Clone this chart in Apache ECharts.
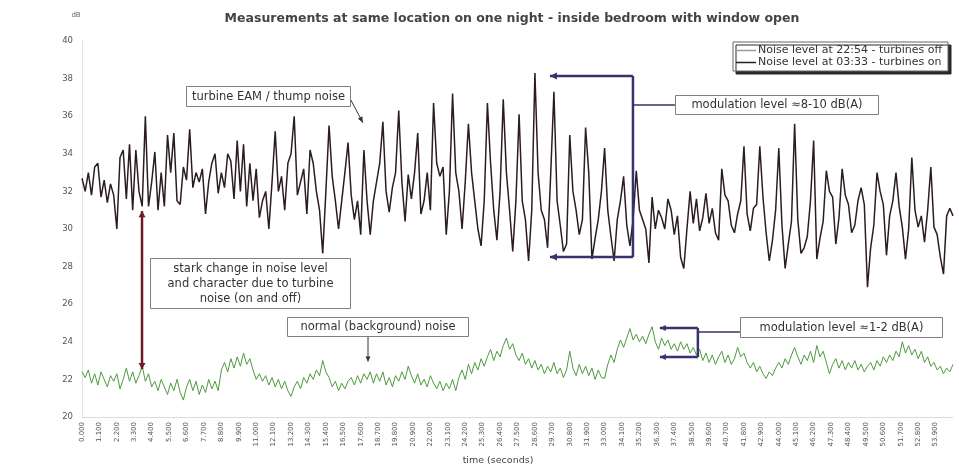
<!DOCTYPE html>
<html>
<head>
<meta charset="utf-8">
<script src="https://cdn.jsdelivr.net/npm/echarts@6/dist/echarts.min.js"></script>
<style>
  html, body { margin: 0; padding: 0; background: #fff; }
  #chart { width: 959px; height: 468px; }
</style>
</head>
<body>
<div id="chart"></div>
<script>
// Readings are taken every 0.2 s
const SAMPLE_STEP = 0.2;

// Noise level (dB) at 03:33 with the turbines running
const turbinesOn = [
  32.7, 32.0, 33.0, 31.8, 33.3, 33.5, 31.7, 32.6, 31.4, 32.4,
  31.8, 30.0, 33.8, 34.2, 31.6, 34.5, 31.0, 34.2, 32.0, 31.2,
  36.0, 31.2, 32.5, 34.1, 31.0, 33.0, 31.2, 35.0, 33.0, 35.1,
  31.5, 31.3, 33.3, 32.6, 35.3, 32.2, 33.0, 32.5, 33.2, 30.8,
  32.5, 33.5, 34.0, 31.9, 33.0, 32.2, 34.0, 33.6, 31.6, 34.7,
  32.0, 34.5, 31.2, 33.5, 31.5, 33.2, 30.6, 31.5, 32.0, 30.0,
  32.5, 35.2, 32.0, 32.8, 31.0, 33.5, 34.0, 36.0, 31.8, 32.5,
  33.2, 30.8, 34.2, 33.5, 32.0, 31.0, 28.7, 32.0, 35.5, 32.8,
  31.5, 30.0, 31.5, 33.0, 34.6, 31.8, 30.5, 31.5, 29.7, 34.2,
  31.5, 29.7, 31.5, 32.5, 33.5, 35.7, 32.0, 30.9, 32.2, 33.0,
  36.3, 32.5, 30.4, 32.9, 31.6, 33.0, 35.1, 30.8, 31.5, 33.0,
  31.0, 36.7, 33.5, 32.8, 33.3, 29.7, 32.0, 37.2, 33.0, 32.0,
  30.0, 32.5, 35.6, 33.0, 31.5, 30.0, 29.1, 31.5, 36.7, 33.5,
  31.0, 29.4, 32.0, 36.9, 33.0, 31.0, 28.8, 31.5, 36.1, 31.5,
  30.5, 28.3, 31.0, 38.3, 33.0, 31.0, 30.5, 29.0, 33.0, 37.3,
  31.5, 30.2, 28.8, 29.2, 35.0, 32.0, 31.0, 29.7, 30.5, 35.4,
  33.0, 28.4, 29.5, 30.5, 32.0, 34.3, 31.0, 29.6, 28.3, 30.5,
  31.5, 32.8, 30.2, 29.1, 30.5, 33.1, 31.0, 30.5, 30.0, 28.2,
  31.7, 30.0, 31.0, 30.6, 30.0, 31.6, 31.0, 29.7, 30.7, 28.5,
  27.9, 30.0, 32.0, 30.3, 31.6, 29.9, 30.6, 31.9, 30.3, 31.1,
  29.8, 29.4, 33.2, 31.8, 31.5, 30.2, 29.8, 30.8, 31.5, 34.4,
  30.8, 29.9, 31.1, 31.3, 34.4, 31.7, 29.8, 28.3, 29.4, 31.0,
  34.3, 30.2, 27.9, 29.2, 30.4, 35.6, 30.5, 28.7, 29.0, 29.6,
  31.5, 34.7, 28.4, 29.5, 30.4, 33.1, 32.0, 31.7, 29.2, 30.6,
  33.2, 31.8, 31.3, 29.8, 30.2, 31.5, 32.2, 31.3, 26.9, 29.0,
  30.2, 33.0, 32.0, 31.3, 28.6, 30.7, 31.5, 33.0, 31.2, 30.1,
  28.4, 30.0, 33.8, 31.0, 30.1, 30.7, 29.3, 31.0, 33.3, 30.1,
  29.7, 28.5, 27.6, 30.7, 31.1, 30.7
];

// Noise level (dB) at 22:54 with the turbines stopped
const turbinesOff = [
  22.4, 22.1, 22.5, 21.8, 22.3, 21.7, 22.4, 22.0, 21.6, 22.2,
  21.9, 22.3, 21.5, 22.0, 22.6, 21.9, 22.4, 21.8, 22.2, 22.7,
  21.9, 22.3, 21.6, 21.9, 21.4, 22.0, 21.6, 21.2, 21.8, 21.4,
  22.0, 21.3, 20.9, 21.6, 22.0, 21.4, 21.9, 21.2, 21.7, 21.3,
  22.0, 21.5, 21.9, 21.4, 22.5, 22.9, 22.4, 23.1, 22.6, 23.2,
  22.7, 23.4, 22.8, 23.1, 22.5, 22.0, 22.3, 21.9, 22.2, 21.7,
  22.1, 21.6, 22.0, 21.5, 21.9, 21.4, 21.1, 21.6, 21.9, 21.5,
  22.1, 21.8, 22.3, 22.0, 22.5, 22.2, 23.0, 22.4, 22.1, 21.6,
  21.9, 21.4, 21.8, 21.5, 21.9, 22.1, 21.7, 22.2, 21.8, 22.3,
  22.0, 22.4, 21.8, 22.3, 21.9, 22.4, 21.7, 22.1, 21.6, 22.2,
  21.9, 22.4, 22.0, 22.7, 22.2, 21.8, 22.3, 21.7, 22.0, 21.6,
  22.2, 21.8, 21.5, 21.9, 21.4, 21.8, 21.5, 22.0, 21.4, 22.1,
  22.5, 22.0, 22.8, 22.3, 22.9, 22.5, 23.1, 22.7, 23.2, 23.6,
  23.0, 23.5, 23.2, 23.8, 24.2, 23.6, 23.9, 23.3, 23.0, 23.4,
  22.8, 23.1, 22.6, 23.0, 22.5, 22.8, 22.3, 22.7, 22.4, 22.9,
  22.3, 22.6, 22.1, 22.5, 23.5, 22.6, 22.2, 22.8, 22.3, 22.7,
  22.2, 22.6, 22.0, 22.5, 22.1, 22.05, 22.8, 23.3, 22.9, 23.6,
  24.1, 23.7, 24.2, 24.7, 24.1, 24.4, 24.0, 24.3, 23.9, 24.4,
  24.8, 24.0, 23.6, 24.2, 23.8, 24.1, 23.6, 23.9, 23.5, 24.0,
  23.6, 23.9, 23.4, 23.7, 23.3, 23.6, 23.0, 23.4, 22.9, 23.3,
  22.8, 23.2, 23.5, 22.9, 23.3, 22.8, 23.1, 23.7, 23.2, 23.4,
  22.9, 22.6, 22.9, 22.4, 22.7, 22.3, 22.05, 22.4, 22.2, 22.6,
  22.9, 22.6, 23.1, 22.8, 23.3, 23.7, 23.2, 22.8, 23.3, 23.0,
  23.5, 22.9, 23.8, 23.2, 23.5, 22.9, 22.3, 22.8, 23.1, 22.6,
  23.0, 22.5, 22.9, 22.6, 23.0, 22.5, 22.8, 22.4, 22.7, 22.9,
  22.5, 23.0, 22.7, 23.2, 22.9, 23.3, 23.0, 23.5, 23.2, 24.0,
  23.4, 23.8, 23.3, 23.6, 23.1, 23.5, 22.9, 23.2, 22.7, 22.9,
  22.5, 22.7, 22.3, 22.6, 22.4, 22.8
];

// Axis settings
const yRange = [20, 40];
const yStep = 2;
const xRange = [0, 55];
const xStep = 1.1;

const NAME_ON = 'Noise level at 03:33 - turbines on';
const NAME_OFF = 'Noise level at 22:54 - turbines off';

const toPairs = arr => arr.map((v, i) => [+(i * SAMPLE_STEP).toFixed(1), v]);

const FONT = '"DejaVu Sans", sans-serif';
const NAVY = '#34336f';

const chart = echarts.init(document.getElementById('chart'), null, { renderer: 'canvas' });

chart.setOption({
  backgroundColor: '#ffffff',
  animation: false,
  title: {
    text: 'Measurements at same location on one night - inside bedroom with window open',
    left: 507,
    textAlign: 'center',
    top: 7,
    textStyle: { fontFamily: FONT, fontSize: 12.5, fontWeight: 'bold', color: '#444' }
  },
  legend: {
    orient: 'vertical',
    right: 11,
    top: 42,
    itemWidth: 20,
    itemHeight: 1.5,
    itemGap: 1,
    padding: [3, 6, 3, 3],
    borderColor: '#666',
    borderWidth: 1,
    backgroundColor: '#fff',
    shadowColor: '#2a2a2a',
    shadowBlur: 0,
    shadowOffsetX: 3,
    shadowOffsetY: 3,
    textStyle: { fontFamily: FONT, fontSize: 11, color: '#333', padding: [0, 0, 0, -3] },
    data: [
      { name: NAME_OFF, icon: 'rect', itemStyle: { color: '#9a9a9a' } },
      { name: NAME_ON, icon: 'rect', itemStyle: { color: '#222' } }
    ]
  },
  grid: { left: 82, right: 6, top: 41, bottom: 51, containLabel: false },
  xAxis: {
    type: 'value',
    min: xRange[0],
    max: xRange[1],
    interval: xStep,
    axisLine: { show: true, lineStyle: { color: '#dadada', width: 1 } },
    axisTick: { show: false },
    splitLine: { show: false },
    axisLabel: {
      rotate: 90,
      margin: 5,
      showMaxLabel: false,
      fontFamily: FONT,
      fontSize: 7,
      color: '#555',
      formatter: v => v.toFixed(3)
    }
  },
  yAxis: {
    type: 'value',
    min: yRange[0],
    max: yRange[1],
    interval: yStep,
    axisLine: { show: true, lineStyle: { color: '#e2e2e2', width: 1 } },
    axisTick: { show: false },
    splitLine: { show: false },
    axisLabel: { margin: 9, fontFamily: FONT, fontSize: 8.5, color: '#555' }
  },
  series: [
    {
      name: NAME_OFF,
      type: 'line',
      data: toPairs(turbinesOff),
      showSymbol: false,
      symbol: 'none',
      lineStyle: { color: '#4f9a3f', width: 1 },
      itemStyle: { color: '#4f9a3f' },
      z: 2
    },
    {
      name: NAME_ON,
      type: 'line',
      data: toPairs(turbinesOn),
      showSymbol: false,
      symbol: 'none',
      lineStyle: { color: '#2b1b24', width: 1.5 },
      itemStyle: { color: '#2b1b24' },
      z: 3
    }
  ]
});

// ---- annotations, anchored in data units (seconds, dB) ----
const px = (t, v) => chart.convertToPixel({ gridIndex: 0 }, [t, v]);

function arrowHead(from, to, color, len, half) {
  const dx = to[0] - from[0], dy = to[1] - from[1];
  const d = Math.hypot(dx, dy) || 1;
  const ux = dx / d, uy = dy / d;
  const bx = to[0] - ux * len, by = to[1] - uy * len;
  return {
    type: 'polygon',
    shape: { points: [to, [bx - uy * half, by + ux * half], [bx + uy * half, by - ux * half]] },
    style: { fill: color },
    z: 20
  };
}

function arrow(a, b, color, width, len, half) {
  const p = px(a[0], a[1]), q = px(b[0], b[1]);
  return [
    { type: 'line', shape: { x1: p[0], y1: p[1], x2: q[0], y2: q[1] }, style: { stroke: color, lineWidth: width }, z: 19 },
    arrowHead(p, q, color, len, half)
  ];
}

function seg(a, b, color, width) {
  const p = px(a[0], a[1]), q = px(b[0], b[1]);
  return { type: 'line', shape: { x1: p[0], y1: p[1], x2: q[0], y2: q[1] }, style: { stroke: color, lineWidth: width }, z: 19 };
}

function box(t0, v0, t1, v1, lines) {
  const p = px(t0, v0), q = px(t1, v1);
  const x = Math.round(p[0]) + 0.5, y = Math.round(p[1]) + 0.5;
  const w = Math.round(q[0] - p[0]), h = Math.round(q[1] - p[1]);
  return [
    { type: 'rect', shape: { x, y, width: w, height: h }, style: { fill: '#fff', stroke: '#808080', lineWidth: 1 }, z: 21 },
    {
      type: 'text', x: x + w / 2, y: y + h / 2 + 0.5, z: 22,
      style: {
        text: lines.join('\n'), font: '11.5px ' + FONT, fill: '#333',
        align: 'center', verticalAlign: 'middle', lineHeight: 15
      }
    }
  ];
}

const els = [];

// turbine EAM / thump noise
els.push(...box(6.57, 37.62, 16.92, 36.55, ['turbine EAM / thump noise']));
els.push(...arrow([16.92, 36.95], [17.74, 35.65], '#333', 1, 6, 2.5));

// stark change
els.push(...arrow([3.79, 26.7], [3.79, 30.95], '#6e1a2a', 2.5, 6, 3.5));
els.push(...arrow([3.79, 26.7], [3.79, 22.55], '#6e1a2a', 2.5, 6, 3.5));
els.push(...box(4.29, 28.46, 16.92, 25.8, ['stark change in noise level', 'and character due to turbine', 'noise (on and off)']));

// normal (background) noise
els.push(...box(12.94, 25.32, 24.37, 24.31, ['normal (background) noise']));
els.push(...arrow([18.06, 24.31], [18.06, 22.95], '#333', 1, 5, 2.5));

// modulation bracket, turbines on
els.push(seg([34.79, 38.14], [34.79, 28.51], NAVY, 2.5));
els.push(...arrow([34.79, 38.14], [29.55, 38.14], NAVY, 2.5, 7, 3.5));
els.push(...arrow([34.79, 28.51], [29.55, 28.51], NAVY, 2.5, 7, 3.5));
els.push(seg([34.79, 36.6], [37.44, 36.6], NAVY, 1.5));
els.push(...box(37.44, 37.13, 50.25, 36.12, ['modulation level \u22488-10 dB(A)']));

// modulation bracket, turbines off
els.push(seg([38.89, 24.73], [38.89, 23.19], NAVY, 2.5));
els.push(...arrow([38.89, 24.73], [36.49, 24.73], NAVY, 2.5, 6, 3));
els.push(...arrow([38.89, 23.19], [36.49, 23.19], NAVY, 2.5, 6, 3));
els.push(seg([38.89, 24.52], [41.54, 24.52], NAVY, 1.5));
els.push(...box(41.54, 25.32, 54.29, 24.26, ['modulation level \u22481-2 dB(A)']));

// unit and axis caption
els.push({ type: 'text', x: 76, y: 15, z: 22, style: { text: 'dB', font: '7px ' + FONT, fill: '#666', align: 'center', verticalAlign: 'middle' } });
els.push({ type: 'text', x: 498, y: 461, z: 22, style: { text: 'time (seconds)', font: '9.5px ' + FONT, fill: '#444', align: 'center', verticalAlign: 'middle' } });

chart.setOption({ graphic: { elements: els } });
</script>
</body>
</html>
